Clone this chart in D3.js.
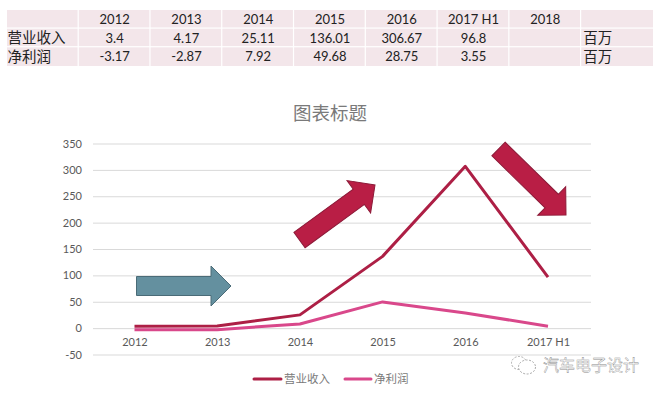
<!DOCTYPE html>
<html>
<head>
<meta charset="utf-8">
<script src="https://cdn.jsdelivr.net/npm/d3@7"></script>
<style>
  html, body { margin: 0; padding: 0; background: #fff; }
  svg { display: block; }
  text { font-family: Lato, "Noto Sans CJK SC", sans-serif; }
  .cjk { font-family: "Noto Sans CJK SC", sans-serif; }
</style>
</head>
<body>
<div id="chart"></div>
<script>
// values
var tableYears = ["2012", "2013", "2014", "2015", "2016", "2017 H1", "2018"];
var categories = ["2012", "2013", "2014", "2015", "2016", "2017 H1"];
var revenue = [3.4, 4.17, 25.11, 136.01, 306.67, 96.8];
var profit = [-3.17, -2.87, 7.92, 49.68, 28.75, 3.55];
var seriesNames = ["营业收入", "净利润"];
var unitLabel = "百万";
var yTicks = [-50, 0, 50, 100, 150, 200, 250, 300, 350];
var chartTitle = "图表标题";
var watermark = "汽车电子设计";

var width = 672, height = 393;
var revenueColor = "#ad1f45", profitColor = "#d9488b";

var svg = d3.select("#chart").append("svg")
  .attr("width", width)
  .attr("height", height);

/* ---------- table on top ---------- */
var columns = d3.range(9);
var tableX = d3.scaleBand().domain(columns).range([7, 653]);
var tableY = d3.scaleBand().domain([0, 1, 2]).range([10, 66]);
var cellGap = 1.2; // white line between the cells

var tableRows = [
  [""].concat(tableYears, [""]),
  [seriesNames[0]].concat(revenue.map(String), ["", unitLabel]),
  [seriesNames[1]].concat(profit.map(String), ["", unitLabel])
];

var table = svg.append("g").attr("class", "table");
tableRows.forEach(function(row, r){
  row.forEach(function(label, c){
    table.append("rect")
      .attr("x", tableX(c))
      .attr("y", tableY(r))
      .attr("width", tableX.bandwidth() - (c == 8 ? 0 : cellGap))
      .attr("height", tableY.bandwidth() - (r == 2 ? 0 : cellGap))
      .attr("fill", "#f3e6ea");
    if(label === "") return;
    // row names and units are left aligned, numbers are centered
    var isCjk = c == 0 || c == 8;
    table.append("text")
      .attr("class", isCjk ? "cjk" : null)
      .attr("x", isCjk ? tableX(c) + (c == 0 ? 0.5 : 2) : tableX(c) + tableX.bandwidth() / 2)
      .attr("y", tableY(r) + tableY.bandwidth() / 2)
      .attr("dy", "0.36em")
      .attr("text-anchor", isCjk ? "start" : "middle")
      .attr("font-size", isCjk ? 14.5 : 13)
      .attr("fill", "#222")
      .text(label);
  });
});

/* ---------- line chart ---------- */
var xScale = d3.scalePoint()
  .domain(categories)
  .range([134.5, 548]);

var yScale = d3.scaleLinear()
  .domain([-50, 350])
  .range([354.5, 143.5]);

svg.append("text")
  .attr("class", "cjk")
  .attr("x", 330)
  .attr("y", 120)
  .attr("text-anchor", "middle")
  .attr("font-size", 18.5)
  .attr("fill", "#7a7a7a")
  .text(chartTitle);

// y axis, the ticks are used as the horizontal gridlines
var yAxis = svg.append("g")
  .attr("transform", "translate(93,0)")
  .call(d3.axisLeft(yScale).tickValues(yTicks).tickFormat(function(d){ return String(d); })
    .tickSize(-498).tickPadding(11));
yAxis.select(".domain").remove();
yAxis.selectAll("line").attr("stroke", "#d9d9d9").attr("stroke-width", 1);
yAxis.selectAll("text")
  .attr("font-size", 11)
  .attr("font-family", "Lato")
  .attr("fill", "#595959");

// x axis sits on the zero line
var xAxis = svg.append("g")
  .attr("transform", "translate(0," + yScale(0) + ")")
  .call(d3.axisBottom(xScale).tickSize(0).tickPadding(10));
xAxis.select(".domain").remove();
xAxis.selectAll("text")
  .attr("font-size", 11)
  .attr("font-family", "Lato")
  .attr("fill", "#595959");

var lineModel = d3.line()
  .x(function(d, i) { return xScale(categories[i]); })
  .y(function(d) { return yScale(d); });

function drawLine(values, color){
  svg.append("path")
    .datum(values)
    .attr("fill", "none")
    .attr("stroke", color)
    .attr("stroke-width", 3)
    .attr("stroke-linejoin", "round")
    .attr("d", lineModel);
}
drawLine(revenue, revenueColor);
drawLine(profit, profitColor);

/* ---------- annotation arrows ---------- */
function drawArrow(x1, y1, x2, y2, fill, stroke){
  var shaftW = 19, headW = 40, headLen = 20;
  var len = Math.hypot(x2 - x1, y2 - y1);
  var pts = [
    [0, -shaftW / 2], [len - headLen, -shaftW / 2], [len - headLen, -headW / 2],
    [len, 0], [len - headLen, headW / 2], [len - headLen, shaftW / 2], [0, shaftW / 2]
  ];
  svg.append("polygon")
    .attr("points", pts.join(" "))
    .attr("transform", "translate(" + x1 + "," + y1 + ") rotate(" +
          (Math.atan2(y2 - y1, x2 - x1) * 180 / Math.PI) + ")")
    .attr("fill", fill)
    .attr("stroke", stroke)
    .attr("stroke-width", 1);
}
drawArrow(136.5, 286, 231, 286, "#64909f", "#4a6b77");
drawArrow(299.5, 240, 375, 185, "#b91e45", "#8c1a38");
drawArrow(498.5, 149, 566, 215, "#b91e45", "#8c1a38");

/* ---------- legend ---------- */
var legend = svg.append("g").attr("class", "legend");
[[254, 281, 284], [345, 371, 374]].forEach(function(pos, i){
  legend.append("line")
    .attr("x1", pos[0]).attr("x2", pos[1])
    .attr("y1", 379).attr("y2", 379)
    .attr("stroke", i == 0 ? revenueColor : profitColor)
    .attr("stroke-width", 3)
    .attr("stroke-linecap", "round");
  legend.append("text")
    .attr("class", "cjk")
    .attr("x", pos[2])
    .attr("y", 379)
    .attr("dy", "0.36em")
    .attr("font-size", 11.5)
    .attr("fill", "#7a7a7a")
    .text(seriesNames[i]);
});

/* ---------- watermark ---------- */
var mark = svg.append("g").attr("class", "watermark");
mark.append("ellipse")
  .attr("cx", 519).attr("cy", 363).attr("rx", 7.5).attr("ry", 6.5)
  .attr("fill", "#fff").attr("stroke", "#aaa").attr("stroke-dasharray", "2 1.5");
mark.append("ellipse")
  .attr("cx", 527).attr("cy", 367).attr("rx", 8.5).attr("ry", 7)
  .attr("fill", "#fff").attr("stroke", "#aaa").attr("stroke-dasharray", "2 1.5");
mark.append("text")
  .attr("class", "cjk")
  .attr("x", 543)
  .attr("y", 365)
  .attr("dy", "0.36em")
  .attr("font-size", 16)
  .attr("fill", "#fff")
  .attr("stroke", "#8a8a8a")
  .attr("stroke-width", 0.4)
  .text(watermark);
</script>
</body>
</html>
